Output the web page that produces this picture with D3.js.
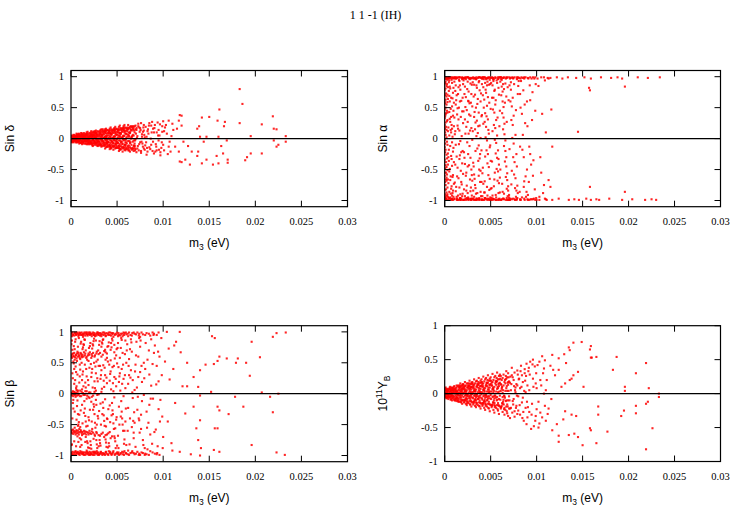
<!DOCTYPE html>
<html>
<head>
<meta charset="utf-8">
<script src="https://cdn.jsdelivr.net/npm/d3@7"></script>
<style>
  html, body { margin: 0; padding: 0; background: #fff; }
  svg { display: block; }
</style>
</head>
<body>
<div id="chart"></div>
<script>
// 1 1 -1 (IH) — vier Scatterplots gegen m3
// Werte: [m3 in meV, Wert]; Umrechnung nach eV erst beim Zeichnen

const title = "1 1 -1 (IH)";
const m3Ticks = [0, 0.005, 0.01, 0.015, 0.02, 0.025, 0.03];
const m3TickLabels = ["0", "0.005", "0.01", "0.015", "0.02", "0.025", "0.03"];
const yTicks = [1, 0.5, 0, -0.5, -1];
const yTickLabels = ["1", "0.5", "0", "-0.5", "-1"];

const sinDelta = [
[0.0,0.02],[0.1,-0.01],[0.0,-0.03],[0.2,0.04],[0.1,0.01],[0.3,-0.02],[0.2,-0.05],[0.4,0.03],[0.3,0.0],[0.0,0.05],[0.1,-0.04],[0.4,-0.01],[0.2,0.02],[0.3,0.05],[0.5,-0.04],[0.0,0.0],[0.1,0.03],[0.4,0.06],[0.2,-0.02],[0.5,0.01],[0.3,-0.06],[0.0,-0.05],[0.4,-0.04],[0.5,0.04],[0.1,-0.06],
[0.6,0.02],[0.7,-0.03],[0.8,0.05],[0.6,-0.06],[0.9,0.0],[0.7,0.07],[0.8,-0.02],[1.0,0.03],[0.6,0.04],[0.9,-0.05],[0.7,0.01],[1.0,-0.07],[0.8,0.06],[0.9,0.03],[0.6,-0.01],[1.0,0.05],[0.7,-0.05],[0.8,-0.04],[0.9,0.07],[1.0,-0.02],[0.7,0.04],[0.6,0.08],[0.8,0.0],[0.9,-0.08],
[1.1,0.02],[1.2,-0.04],[1.3,0.06],[1.4,-0.01],[1.1,-0.07],[1.5,0.04],[1.2,0.08],[1.3,-0.06],[1.4,0.03],[1.5,-0.03],[1.1,0.05],[1.2,0.0],[1.3,-0.02],[1.4,0.07],[1.5,-0.08],[1.1,-0.03],[1.2,0.05],[1.3,0.02],[1.4,-0.05],[1.5,0.01],[1.2,-0.09],[1.4,0.09],[1.3,0.04],[1.1,0.09],
[1.6,0.03],[1.7,-0.05],[1.8,0.08],[1.9,-0.02],[2.0,0.05],[1.6,-0.08],[1.7,0.06],[1.8,-0.04],[1.9,0.01],[2.0,-0.07],[1.6,0.0],[1.7,0.1],[1.8,-0.09],[1.9,0.07],[2.0,0.02],[1.6,0.06],[1.7,-0.01],[1.8,0.03],[1.9,-0.06],[2.0,0.09],[1.7,-0.09],[1.9,0.04],[1.8,0.11],[1.6,-0.04],
[2.1,0.04],[2.2,-0.06],[2.3,0.09],[2.4,-0.02],[2.5,0.06],[2.1,-0.09],[2.2,0.02],[2.3,-0.04],[2.4,0.11],[2.5,-0.08],[2.1,0.0],[2.2,0.07],[2.3,-0.1],[2.4,0.05],[2.5,0.01],[2.1,0.08],[2.2,-0.03],[2.3,0.03],[2.4,-0.07],[2.5,0.1],[2.2,0.12],[2.4,-0.11],[2.1,-0.05],[2.3,0.06],[2.5,-0.04],
[2.6,0.05],[2.7,-0.07],[2.8,0.1],[2.9,-0.03],[3.0,0.07],[2.6,-0.1],[2.7,0.02],[2.8,-0.05],[2.9,0.12],[3.0,-0.09],[2.6,0.01],[2.7,0.08],[2.8,-0.11],[2.9,0.04],[3.0,0.0],[2.6,0.09],[2.7,-0.02],[2.8,0.03],[2.9,-0.08],[3.0,0.11],[2.7,0.13],[2.9,-0.12],[2.6,-0.05],[2.8,0.06],[3.0,-0.04],
[3.1,0.06],[3.2,-0.08],[3.3,0.11],[3.4,-0.03],[3.5,0.08],[3.1,-0.11],[3.2,0.03],[3.3,-0.05],[3.4,0.13],[3.5,-0.1],[3.1,0.0],[3.2,0.09],[3.3,-0.13],[3.4,0.04],[3.5,0.01],[3.1,0.1],[3.2,-0.02],[3.3,0.05],[3.4,-0.08],[3.5,0.12],[3.2,0.14],[3.4,-0.12],[3.1,-0.06],[3.3,0.02],[3.5,-0.05],[3.3,0.15],
[3.6,0.07],[3.7,-0.09],[3.8,0.12],[3.9,-0.04],[4.0,0.09],[3.6,-0.12],[3.7,0.03],[3.8,-0.06],[3.9,0.14],[4.0,-0.11],[3.6,0.01],[3.7,0.1],[3.8,-0.14],[3.9,0.05],[4.0,0.0],[3.6,0.11],[3.7,-0.02],[3.8,0.04],[3.9,-0.09],[4.0,0.13],[3.7,0.15],[3.9,-0.13],[3.6,-0.06],[3.8,0.02],[4.0,-0.05],[3.8,0.16],[3.7,-0.16],
[4.1,0.08],[4.2,-0.1],[4.3,0.13],[4.4,-0.04],[4.5,0.1],[4.1,-0.13],[4.2,0.04],[4.3,-0.07],[4.4,0.15],[4.5,-0.12],[4.1,0.01],[4.2,0.11],[4.3,-0.15],[4.4,0.06],[4.5,0.0],[4.1,0.12],[4.2,-0.02],[4.3,0.03],[4.4,-0.1],[4.5,0.14],[4.2,0.16],[4.4,-0.14],[4.1,-0.06],[4.3,0.09],[4.5,-0.05],[4.3,0.18],[4.2,-0.17],
[4.6,0.09],[4.7,-0.11],[4.8,0.14],[4.9,-0.05],[5.0,0.11],[4.6,-0.14],[4.7,0.04],[4.8,-0.08],[4.9,0.16],[5.0,-0.13],[4.6,0.02],[4.7,0.12],[4.8,-0.16],[4.9,0.06],[5.0,0.0],[4.6,0.13],[4.7,-0.03],[4.8,0.03],[4.9,-0.11],[5.0,0.15],[4.7,0.17],[4.9,-0.15],[4.6,-0.07],[4.8,0.08],[5.0,-0.05],[4.8,0.19],[4.6,-0.18],
[5.1,0.1],[5.2,-0.12],[5.3,0.15],[5.4,-0.06],[5.5,0.12],[5.1,-0.15],[5.2,0.05],[5.3,-0.09],[5.4,0.17],[5.5,-0.14],[5.1,0.02],[5.2,0.13],[5.3,-0.17],[5.4,0.07],[5.5,0.01],[5.1,0.14],[5.2,-0.03],[5.3,0.04],[5.4,-0.12],[5.5,0.16],[5.2,0.19],[5.4,-0.17],[5.1,-0.07],[5.3,0.09],[5.5,-0.05],[5.3,0.21],[5.2,-0.2],
[5.6,0.11],[5.7,-0.13],[5.8,0.16],[5.9,-0.06],[6.0,0.13],[5.6,-0.16],[5.7,0.05],[5.8,-0.1],[5.9,0.18],[6.0,-0.15],[5.6,0.02],[5.7,0.14],[5.8,-0.18],[5.9,0.08],[6.0,0.01],[5.6,0.15],[5.7,-0.03],[5.8,0.04],[5.9,-0.13],[6.0,0.17],[5.7,0.2],[5.9,-0.19],[5.6,-0.08],[5.8,0.1],[6.0,-0.06],[5.8,0.22],[5.6,-0.21],
[6.1,0.12],[6.2,-0.14],[6.3,0.17],[6.4,-0.07],[6.5,0.14],[6.1,-0.17],[6.2,0.06],[6.3,-0.11],[6.4,0.19],[6.5,-0.16],[6.1,0.03],[6.2,0.15],[6.3,-0.19],[6.4,0.09],[6.5,0.0],[6.1,0.16],[6.2,-0.04],[6.3,0.05],[6.4,-0.14],[6.5,0.2],[6.2,0.22],[6.4,-0.21],
[6.6,0.13],[6.7,-0.15],[6.8,0.18],[6.9,-0.08],[7.0,0.15],[6.6,-0.18],[6.7,0.06],[6.8,-0.12],[6.9,0.2],[7.0,-0.17],[6.6,0.03],[6.7,0.16],[6.8,-0.2],[6.9,0.1],[7.0,-0.01],[6.6,0.19],[6.7,-0.05],[6.8,0.05],[6.9,-0.15],[7.0,0.21],
[7.1,0.14],[7.2,-0.16],[7.3,0.2],[7.4,-0.09],[7.5,0.17],[7.6,-0.2],[7.7,0.07],[7.8,-0.13],[7.9,0.22],[8.0,-0.18],[7.2,0.04],[7.4,0.18],[7.6,-0.23],[7.8,0.11],[8.0,0.02],[7.3,0.24],[7.5,-0.06],[7.7,0.03],[7.9,-0.16],[7.1,-0.22],[7.6,0.25],[7.9,0.13],
[8.1,0.19],[8.3,-0.21],[8.5,0.25],[8.7,-0.1],[8.9,0.16],[8.2,-0.26],[8.4,0.08],[8.6,-0.17],[8.8,0.27],[9.0,-0.24],[8.3,0.12],[8.7,0.21],[8.9,-0.05],[8.5,-0.14],[9.0,0.1],[8.2,0.03],
[9.1,0.22],[9.3,-0.19],[9.5,0.14],[9.7,-0.27],[9.9,0.2],[9.2,-0.09],[9.4,0.26],[9.6,0.05],[9.8,-0.15],[10.0,0.28],[9.3,0.1],[9.7,-0.22],[9.5,-0.03],[10.0,-0.1],
[10.4,0.08],[10.6,0.29],[10.6,-0.13],[10.8,-0.21],[11.0,0.24],[11.1,0.14],[10.2,0.18],[10.5,-0.25],[10.9,0.04],
[11.3,-0.13],[11.5,0.16],[11.7,0.29],[11.7,-0.21],[11.8,0.38],[11.8,-0.37],[12.0,0.37],[12.0,0.21],[12.0,-0.38],[12.2,-0.05],[12.4,-0.34],[12.7,-0.12],[12.9,-0.42],[13.1,-0.21],[13.7,0.16],[13.7,-0.28],[13.8,-0.21],[13.9,0.2],[14.0,0.03],[14.2,0.34],[14.2,-0.4],[14.4,-0.05],[14.7,0.03],[14.7,-0.34],[15.0,0.35],[15.4,-0.42],[15.8,-0.28],[15.9,0.29],[16.0,0.03],[16.0,-0.4],[16.1,0.47],[16.3,-0.12],[16.5,-0.24],[16.6,0.2],[16.7,0.27],[16.9,-0.03],[17.0,-0.39],[17.0,-0.34],[18.3,0.8],[18.3,0.25],[18.6,0.56],[18.9,-0.35],[19.1,-0.3],[19.5,0.04],[19.5,-0.24],[20.7,0.23],[20.7,-0.24],[21.9,0.36],[22.0,0.16],[22.0,-0.03],[22.3,0.15],[22.3,-0.13],[22.5,-0.1],[23.3,0.04],[23.3,-0.05],
[0.15,0.01],[0.25,-0.03],[0.35,0.02],[0.45,-0.02],[0.05,0.04],[0.55,0.0],[0.65,-0.03],[0.75,0.03],[0.85,-0.01],[0.95,0.04],[0.15,-0.02],[0.35,0.04],[0.55,-0.06],[0.75,-0.06],[0.95,-0.04],[0.25,0.06],[0.65,0.06],[0.85,0.08],
[1.05,0.0],[1.15,-0.05],[1.25,0.03],[1.35,-0.08],[1.45,0.05],[1.55,-0.01],[1.65,0.08],[1.75,-0.03],[1.85,0.01],[1.95,-0.09],[1.05,0.06],[1.25,-0.06],[1.45,-0.04],[1.65,0.02],[1.85,-0.07],[1.15,0.08],[1.35,0.01],[1.55,0.07],[1.75,0.05],[1.95,-0.01],
[2.05,0.03],[2.15,-0.07],[2.25,0.05],[2.35,-0.01],[2.45,0.08],[2.55,-0.05],[2.65,0.02],[2.75,-0.09],[2.85,0.07],[2.95,0.0],[2.05,-0.04],[2.25,-0.08],[2.45,-0.02],[2.65,0.11],[2.85,-0.06],[2.15,0.1],[2.35,0.04],[2.55,0.03],[2.75,0.06],[2.95,-0.11],[2.35,-0.12],[2.55,0.12],
[3.05,0.04],[3.15,-0.09],[3.25,0.07],[3.35,-0.02],[3.45,0.1],[3.55,-0.07],[3.65,0.03],[3.75,-0.11],[3.85,0.08],[3.95,-0.01],[3.05,-0.05],[3.25,-0.1],[3.45,-0.04],[3.65,0.13],[3.85,-0.07],[3.15,0.12],[3.35,0.06],[3.55,0.01],[3.75,0.09],[3.95,-0.13],[3.45,0.15],[3.85,0.02],
[4.05,0.05],[4.15,-0.1],[4.25,0.08],[4.35,-0.03],[4.45,0.12],[4.55,-0.08],[4.65,0.03],[4.75,-0.13],[4.85,0.1],[4.95,-0.02],[4.05,-0.06],[4.25,-0.12],[4.45,-0.05],[4.65,0.15],[4.85,-0.09],[4.15,0.14],[4.35,0.07],[4.55,0.01],[4.75,0.11],[4.95,-0.15],[4.35,-0.16],[4.65,-0.02],[4.95,0.07],
[5.05,0.06],[5.15,-0.11],[5.25,0.09],[5.35,-0.03],[5.45,0.14],[5.55,-0.09],[5.65,0.04],[5.75,-0.15],[5.85,0.12],[5.95,-0.02],[5.05,-0.07],[5.25,-0.14],[5.45,-0.05],[5.65,0.17],[5.85,-0.1],[5.15,0.16],[5.35,0.08],[5.55,0.02],[5.75,0.13],[5.95,-0.17],[5.35,-0.18],[5.65,-0.01],[5.95,0.08],
[6.05,0.07],[6.15,-0.12],[6.25,0.1],[6.35,-0.04],[6.45,0.16],[6.55,-0.1],[6.65,0.04],[6.75,-0.17],[6.85,0.13],[6.95,-0.03],[6.05,-0.08],[6.25,-0.16],[6.45,-0.06],[6.65,0.19],[6.85,-0.11],[6.15,0.18],[6.35,0.09],[6.55,0.02],[6.75,0.15],[6.95,-0.19],
[7.05,0.08],[7.25,-0.12],[7.45,0.11],[7.65,-0.05],[7.85,0.18],[8.05,-0.11],[7.15,0.01],[7.35,-0.19],[7.55,0.14],[7.75,-0.08],[7.95,0.06],[8.25,-0.15],[8.45,0.21],[8.65,0.0],[8.85,-0.2],[8.35,0.15],[8.15,-0.06],[8.75,0.1],[9.05,0.17],[9.25,-0.13],[9.45,0.05],[9.65,0.23],[9.85,-0.06],[9.15,-0.21],[9.55,-0.18],[9.9,0.11],[10.1,-0.19],[10.3,0.22],[10.7,-0.05],[10.1,0.12],
[0.3,0.01],[0.8,-0.01],[1.3,0.0],[1.8,-0.01],[2.3,0.01],[2.8,-0.02],[3.3,0.0],[3.8,-0.02],[4.3,0.01],[4.8,-0.03],[5.3,0.02],[5.8,-0.02],[6.3,0.03],[6.8,-0.03],
[0.42,0.03],[0.92,-0.03],[1.42,0.04],[1.92,-0.04],[2.42,0.05],[2.92,-0.05],[3.42,0.06],[3.92,-0.07],[4.42,0.08],[4.92,-0.08],[5.42,0.09],[5.92,-0.1],[6.42,0.11],[6.92,-0.12],
[0.62,-0.02],[1.12,0.04],[1.62,-0.05],[2.12,0.06],[2.62,-0.07],[3.12,0.08],[3.62,-0.1],[4.12,0.1],[4.62,-0.12],[5.12,0.13],[5.62,-0.14],[6.12,0.15],[6.62,-0.16],[7.12,0.17],
[0.22,-0.04],[0.72,0.05],[1.22,-0.06],[1.72,0.07],[2.22,-0.08],[2.72,0.09],[3.22,-0.11],[3.72,0.12],[4.22,-0.13],[4.72,0.15],[5.22,-0.16],[5.72,0.18],[6.22,-0.19],[6.72,0.2]
];

const sinAlpha = [
[0.0,0.97],[0.1,0.92],[0.2,0.85],[0.0,0.78],[0.3,0.71],[0.1,0.63],[0.2,0.55],[0.0,0.47],[0.1,0.39],[0.3,0.3],[0.0,0.22],[0.2,0.14],[0.1,0.06],[0.0,-0.02],[0.3,-0.1],[0.1,-0.18],[0.2,-0.26],[0.0,-0.34],[0.1,-0.43],[0.3,-0.51],[0.0,-0.6],[0.2,-0.68],[0.1,-0.75],[0.0,-0.83],[0.3,-0.9],[0.1,-0.96],[0.2,-0.99],[0.4,0.99],[0.0,0.88],[0.2,0.68],[0.1,0.5],[0.3,0.42],[0.0,0.33],[0.2,0.02],[0.4,-0.3],[0.0,-0.55],[0.2,-0.87],[0.4,-0.72],[0.1,0.81],[0.3,0.59],[0.0,-0.14],[0.2,-0.46],[0.3,0.95],[0.1,-0.93],[0.4,0.18],[0.0,0.6],[0.2,-0.63],[0.1,0.26],[0.3,-0.79],[0.0,-0.98],
[0.5,0.94],[0.6,0.81],[0.7,0.66],[0.8,0.52],[0.9,0.37],[1.0,0.2],[0.5,0.05],[0.6,-0.12],[0.7,-0.28],[0.8,-0.44],[0.9,-0.59],[1.0,-0.73],[0.5,-0.86],[0.6,-0.95],[0.7,0.99],[0.8,0.9],[0.9,0.74],[1.0,0.58],[0.5,0.43],[0.6,0.27],[0.7,0.1],[0.8,-0.06],[0.9,-0.21],[1.0,-0.38],[0.5,-0.53],[0.6,-0.67],[0.7,-0.81],[0.8,-0.92],[0.9,-0.99],[1.0,0.97],[0.6,0.98],[0.8,-0.98],[0.5,0.69],[0.9,-0.84],[0.7,0.35],[0.8,0.16],
[1.1,0.98],[1.2,0.86],[1.3,0.7],[1.4,0.49],[1.5,0.31],[1.6,0.13],[1.7,-0.04],[1.8,-0.22],[1.9,-0.4],[2.0,-0.57],[1.1,-0.71],[1.2,-0.85],[1.3,-0.94],[1.4,-0.99],[1.5,0.99],[1.6,0.93],[1.7,0.79],[1.8,0.61],[1.9,0.44],[2.0,0.25],[1.1,0.07],[1.2,-0.1],[1.3,-0.29],[1.4,-0.47],[1.5,-0.64],[1.6,-0.79],[1.7,-0.9],[1.8,-0.97],[1.9,0.96],[2.0,0.88],[1.2,0.55],[1.4,0.21],[1.6,-0.33],[1.8,-0.7],[1.3,0.99],[1.7,-0.99],[1.9,-0.93],[1.5,0.83],
[2.1,0.97],[2.2,0.84],[2.3,0.67],[2.4,0.46],[2.5,0.27],[2.6,0.08],[2.7,-0.12],[2.8,-0.31],[2.9,-0.5],[3.0,-0.68],[2.1,-0.82],[2.2,-0.93],[2.3,-0.99],[2.4,0.99],[2.5,0.92],[2.6,0.76],[2.7,0.57],[2.8,0.37],[2.9,0.17],[3.0,-0.02],[2.1,-0.22],[2.2,-0.41],[2.3,-0.6],[2.4,-0.76],[2.5,-0.88],[2.6,-0.97],[2.7,0.98],[2.8,0.89],[2.9,0.72],[3.0,0.52],[2.2,0.31],[2.5,-0.45],[2.8,-0.85],[2.4,-0.96],[2.6,0.6],[2.9,-0.99],[2.3,0.96],
[3.1,0.99],[3.2,0.87],[3.3,0.71],[3.4,0.5],[3.5,0.29],[3.6,0.09],[3.7,-0.11],[3.8,-0.32],[3.9,-0.52],[4.0,-0.7],[3.1,-0.84],[3.2,-0.94],[3.3,-0.99],[3.4,0.96],[3.5,0.82],[3.6,0.64],[3.7,0.42],[3.8,0.21],[3.9,0.01],[4.0,-0.19],[3.1,-0.39],[3.2,-0.58],[3.3,-0.75],[3.4,-0.89],[3.5,-0.97],[3.6,0.98],[3.7,0.91],[3.8,0.78],[3.9,0.6],[4.0,0.36],[3.3,0.15],[3.7,-0.6],[3.5,-0.99],[3.9,-0.86],[3.2,0.35],
[4.1,0.97],[4.2,0.83],[4.3,0.63],[4.4,0.41],[4.5,0.19],[4.6,-0.03],[4.7,-0.25],[4.8,-0.46],[4.9,-0.65],[5.0,-0.81],[4.1,-0.93],[4.2,-0.99],[4.3,0.99],[4.4,0.9],[4.5,0.74],[4.6,0.53],[4.7,0.31],[4.8,0.08],[4.9,-0.14],[5.0,-0.36],[4.1,-0.56],[4.2,-0.73],[4.3,-0.87],[4.4,-0.96],[4.5,0.98],[4.6,0.86],[4.7,0.67],[4.8,-0.98],[4.9,0.95],[5.0,0.48],[4.4,-0.29],[4.6,-0.78],[4.2,0.24],[4.8,0.87],
[5.1,0.98],[5.2,0.86],[5.3,0.66],[5.4,0.42],[5.5,0.17],[5.6,-0.07],[5.7,-0.31],[5.8,-0.53],[5.9,-0.72],[6.0,-0.87],[5.1,-0.96],[5.2,-0.99],[5.3,0.93],[5.4,0.77],[5.5,0.55],[5.6,0.3],[5.7,0.05],[5.8,-0.19],[5.9,-0.42],[6.0,-0.63],[5.1,-0.8],[5.2,-0.92],[5.3,-0.98],[5.5,0.99],[5.7,0.9],[5.9,0.71],[5.4,-0.66],[5.6,-0.95],[5.8,0.99],[6.0,0.45],[5.2,0.12],
[6.1,0.99],[6.2,0.84],[6.3,0.6],[6.4,0.34],[6.5,0.07],[6.6,-0.2],[6.7,-0.45],[6.8,-0.67],[6.9,-0.84],[7.0,-0.95],[6.1,-0.99],[6.2,0.95],[6.3,0.76],[6.4,0.51],[6.5,0.24],[6.6,-0.03],[6.7,-0.3],[6.8,-0.56],[6.9,-0.77],[7.0,-0.91],[6.2,-0.98],[6.4,0.98],[6.6,0.89],[6.8,-0.99],[6.3,-0.86],[6.7,0.68],
[7.1,0.97],[7.2,0.79],[7.3,0.52],[7.4,0.22],[7.5,-0.08],[7.6,-0.38],[7.7,-0.64],[7.8,-0.84],[7.9,-0.96],[8.0,0.99],[7.1,-0.99],[7.2,0.91],[7.4,0.66],[7.5,0.37],[7.7,0.06],[7.8,-0.25],[7.3,-0.52],[7.9,-0.76],[7.6,-0.98],[8.0,0.85],
[8.1,0.98],[8.2,0.72],[8.4,0.4],[8.5,0.06],[8.6,-0.3],[8.8,-0.61],[8.9,-0.86],[9.0,-0.98],[8.3,0.93],[8.7,0.55],[8.4,-0.95],[8.8,0.99],[8.6,-0.78],[8.2,-0.13],[9.0,0.2],
[9.1,0.97],[9.3,0.62],[9.4,-0.42],[9.6,0.99],[9.7,-0.97],[9.8,-0.82],[9.2,-0.13],[9.5,0.3],[9.9,0.88],[10.0,-0.99],[9.6,-0.6],[9.3,-0.25],
[10.2,0.85],[10.4,-0.3],[10.6,0.4],[10.8,-0.75],[11.0,0.1],[11.3,-0.67],[11.5,-0.78],[11.6,0.47],[11.7,-0.13],[10.5,-0.55],[10.9,0.94],[11.2,0.98],
[0.5,0.99],[0.9,0.98],[1.2,0.97],[1.6,0.99],[2.0,0.98],[2.5,0.99],[2.9,0.97],[3.3,0.98],[3.7,0.99],[4.1,0.99],[4.5,0.96],[4.9,0.99],[5.3,0.98],[5.8,0.96],[6.3,0.98],[6.7,0.99],[7.2,0.98],[7.6,0.99],[8.5,0.98],[9.3,0.99],[0.3,0.97],[1.9,0.99],[3.0,0.98],[4.7,0.98],[6.0,0.99],[7.9,0.97],
[0.4,-0.99],[0.8,-0.97],[1.3,-0.98],[1.7,-0.96],[2.1,-0.99],[2.6,-0.99],[3.0,-0.97],[3.4,-0.99],[3.8,-0.98],[4.3,-0.99],[4.7,-0.97],[5.0,-0.99],[5.4,-0.98],[5.9,-0.99],[6.4,-0.97],[6.9,-0.99],[7.3,-0.98],[7.8,-0.99],[8.2,-0.98],[9.2,-0.99],[0.2,-0.97],[1.5,-0.99],[2.8,-0.98],[4.0,-0.99],[5.6,-0.99],[7.0,-0.98],[8.7,-0.99],[9.6,-0.98],
[10.8,0.99],[11.5,0.98],[12.2,0.99],[12.8,0.97],[13.4,0.99],[14.3,0.98],[15.2,0.99],[15.9,0.97],[17.0,0.99],[18.1,0.98],[18.8,0.99],[19.3,0.97],[21.0,0.99],[22.1,0.98],[23.4,0.99],[15.7,0.82],[15.8,0.78],[19.6,0.84],[14.5,0.11],[15.8,-0.78],[19.6,-0.86],
[10.3,-0.99],[11.0,-0.98],[11.7,-0.99],[12.4,-0.97],[13.5,-0.99],[14.1,-0.98],[14.6,-0.99],[15.4,-0.97],[15.9,-0.99],[16.5,-0.98],[16.8,-0.99],[17.9,-0.97],[19.3,-0.99],[20.4,-0.98],[21.8,-0.99],[22.5,-0.98],[23.0,-0.99],
[0.05,0.9],[0.15,0.73],[0.05,0.57],[0.25,0.45],[0.05,0.36],[0.15,0.19],[0.05,0.1],[0.25,-0.05],[0.05,-0.22],[0.15,-0.38],[0.05,-0.48],[0.25,-0.58],[0.05,-0.7],[0.15,-0.82],[0.05,-0.9],[0.35,0.83],[0.35,0.64],[0.35,0.12],[0.35,-0.24],[0.35,-0.42],[0.35,-0.66],[0.35,-0.94],[0.05,0.7],[0.15,0.41],[0.25,0.28],[0.05,-0.08],[0.25,-0.32],[0.15,-0.55],[0.25,-0.92],[0.05,0.99],[0.15,0.96],[0.25,0.98],[0.05,-0.95],[0.15,-0.99],[0.25,0.88],[0.05,0.16],[0.15,-0.66],
[0.45,0.77],[0.55,0.6],[0.65,0.48],[0.75,0.22],[0.85,0.03],[0.95,-0.15],[0.45,-0.36],[0.55,-0.49],[0.65,-0.61],[0.75,-0.77],[0.85,-0.88],[0.95,-0.94],[0.45,0.91],[0.55,0.84],[0.65,0.14],[0.75,-0.33],[0.85,0.65],[0.95,0.45],[0.45,-0.18],[0.55,0.32],[0.65,-0.89],[0.75,0.95],[0.85,-0.62],[0.95,0.82],[0.45,0.97],[0.65,-0.98],[0.85,0.99],[0.55,-0.97],
[1.05,0.92],[1.15,0.77],[1.25,0.62],[1.35,0.39],[1.45,0.16],[1.55,-0.09],[1.65,-0.27],[1.75,-0.52],[1.85,-0.74],[1.95,-0.89],[1.05,-0.97],[1.25,0.97],[1.35,-0.61],[1.45,0.72],[1.55,0.5],[1.65,0.86],[1.75,0.35],[1.85,0.04],[1.95,-0.2],[1.05,0.34],[1.15,-0.42],[1.25,-0.78],[1.45,-0.92],[1.65,-0.96],[1.85,0.98],[1.95,0.66],[1.15,0.99],[1.35,-0.99],[1.55,0.95],[1.75,-0.99],[1.15,0.12],[1.65,0.6],
[2.05,0.94],[2.15,0.72],[2.25,0.51],[2.35,0.19],[2.45,-0.06],[2.55,-0.25],[2.65,-0.43],[2.75,-0.66],[2.85,-0.79],[2.95,-0.92],[2.05,-0.99],[2.25,0.99],[2.35,-0.84],[2.45,0.8],[2.55,0.61],[2.65,0.39],[2.75,0.13],[2.85,0.58],[2.95,0.87],[2.05,0.44],[2.15,-0.31],[2.35,-0.55],[2.55,-0.95],[2.75,0.96],[2.95,-0.59],[2.15,0.98],[2.45,-0.98],[2.65,0.97],[2.85,-0.97],[2.25,0.08],
[3.05,0.91],[3.15,0.68],[3.25,0.43],[3.35,0.26],[3.45,0.04],[3.55,-0.16],[3.65,-0.36],[3.75,-0.5],[3.85,-0.7],[3.95,-0.93],[3.05,-0.97],[3.25,0.97],[3.35,-0.8],[3.45,0.86],[3.55,0.56],[3.65,0.2],[3.75,0.93],[3.85,-0.25],[3.95,0.73],[3.05,0.12],[3.15,-0.45],[3.35,-0.2],[3.55,-0.88],[3.75,-0.96],[3.95,0.98],[3.15,-0.99],[3.45,0.99],[3.65,-0.98],[3.85,0.99],[3.25,-0.65],
[4.05,0.88],[4.15,0.7],[4.25,0.5],[4.35,0.27],[4.45,0.02],[4.55,-0.19],[4.65,-0.4],[4.75,-0.59],[4.85,-0.83],[4.95,-0.95],[4.05,-0.99],[4.25,0.96],[4.35,-0.69],[4.45,0.79],[4.55,0.36],[4.65,0.92],[4.75,0.14],[4.85,0.58],[4.95,-0.11],[4.05,0.38],[4.15,-0.47],[4.35,-0.87],[4.55,-0.98],[4.75,0.99],[4.95,0.88],[4.15,0.99],[4.45,-0.97],[4.65,-0.92],[4.85,-0.99],
[5.05,0.9],[5.15,0.66],[5.25,0.47],[5.35,0.22],[5.45,-0.02],[5.55,-0.24],[5.65,-0.49],[5.75,-0.68],[5.85,-0.88],[5.95,-0.97],[5.05,-0.99],[5.25,0.98],[5.35,-0.77],[5.45,0.79],[5.55,0.62],[5.65,0.94],[5.75,0.34],[5.85,0.82],[5.95,0.2],[5.15,-0.37],[5.35,0.96],[5.55,-0.91],[5.75,-0.99],[5.95,0.99],[5.15,0.99],[5.45,-0.55],[5.85,-0.33],
[6.05,0.92],[6.15,0.7],[6.25,0.41],[6.35,0.15],[6.45,-0.12],[6.55,-0.37],[6.65,-0.62],[6.75,-0.81],[6.85,-0.93],[6.95,-0.99],[6.15,0.99],[6.35,-0.97],[6.45,0.8],[6.55,0.58],[6.65,0.97],[6.75,0.27],[6.85,0.83],[6.95,0.62],[6.25,-0.73],[6.45,-0.89],[6.65,-0.99],[6.85,0.99],[6.05,-0.5],[6.35,0.88],
[7.05,0.86],[7.15,0.6],[7.25,0.3],[7.35,0.01],[7.45,-0.3],[7.55,-0.58],[7.65,-0.8],[7.75,-0.94],[7.85,0.96],[7.95,0.72],[7.15,-0.97],[7.35,0.99],[7.55,0.88],[7.75,0.46],[7.95,-0.88],[7.25,-0.74],[7.45,0.97],[7.65,-0.99],[7.85,-0.45],[7.05,-0.17],
[8.05,0.93],[8.25,0.5],[8.45,-0.18],[8.65,-0.69],[8.85,-0.94],[8.15,-0.86],[8.35,0.99],[8.55,0.78],[8.75,0.25],[8.95,-0.5],[8.25,-0.99],[8.65,0.97],[8.95,0.6],[9.05,-0.91],[9.25,0.86],[9.45,0.97],[9.65,-0.35],[9.85,0.45],[9.15,-0.7],[9.35,-0.98],[9.55,0.75],[9.75,0.97],[9.95,-0.96],[10.1,0.97],[10.3,-0.94],[10.5,0.99],[10.7,-0.88],[10.9,-0.97],[11.1,-0.99],[11.3,0.97],
[0.15,0.99],[0.45,0.98],[0.75,0.97],[1.05,0.99],[1.35,0.98],[1.65,0.99],[1.95,0.97],[2.25,0.98],[2.55,0.99],[2.85,0.98],[3.15,0.97],[3.45,0.96],[3.75,0.99],[4.05,0.97],[4.35,0.99],[4.65,0.97],[4.95,0.98],[5.25,0.96],[5.55,0.98],[5.85,0.97],[6.15,0.96],[6.45,0.99],[6.75,0.98],[7.05,0.99],[7.45,0.98],[7.85,0.99],[8.25,0.97],[8.65,0.99],[9.05,0.98],[9.85,0.99],
[0.15,-0.98],[0.45,-0.96],[0.75,-0.99],[1.05,-0.98],[1.35,-0.97],[1.65,-0.98],[1.95,-0.99],[2.25,-0.97],[2.55,-0.98],[2.85,-0.99],[3.15,-0.98],[3.45,-0.97],[3.75,-0.99],[4.05,-0.98],[4.35,-0.96],[4.65,-0.99],[4.95,-0.98],[5.25,-0.97],[5.55,-0.99],[5.85,-0.98],[6.15,-0.99],[6.45,-0.98],[6.75,-0.96],[7.05,-0.99],[7.45,-0.97],[7.85,-0.98],[8.25,-0.99],[8.65,-0.97],[9.05,-0.99],[9.45,-0.98],[9.85,-0.99]
];

const sinBeta = [
[0.0,0.98],[0.2,0.95],[0.4,0.99],[0.6,0.96],[0.8,0.93],[1.0,0.98],[1.2,0.95],[1.4,0.97],[1.6,0.99],[1.8,0.94],[2.0,0.97],[2.2,0.96],[2.4,0.99],[2.6,0.93],[2.8,0.97],[3.0,0.95],[3.2,0.98],[3.4,0.96],[3.6,0.99],[3.8,0.94],[4.0,0.97],[4.2,0.95],[4.4,0.98],[4.6,0.92],[4.8,0.97],[5.0,0.99],[5.2,0.95],[5.4,0.97],[5.6,0.93],[5.8,0.98],[6.0,0.96],[6.3,0.99],[6.6,0.94],[6.9,0.97],[7.2,0.99],[7.5,0.92],[7.8,0.96],[8.2,0.98],[8.6,0.94],[9.0,0.97],[9.5,0.99],[0.1,0.93],[0.5,0.97],[0.9,0.99],[1.3,0.92],[1.7,0.96],[2.1,0.99],[2.5,0.95],[2.9,0.99],[3.3,0.93],[3.7,0.97],[4.1,0.99],[4.5,0.96],[5.1,0.93],[5.7,0.99],[6.2,0.93],[6.8,0.99],[7.4,0.97],
[0.0,-0.97],[0.2,-0.94],[0.4,-0.99],[0.6,-0.95],[0.8,-0.98],[1.0,-0.93],[1.2,-0.97],[1.4,-0.99],[1.6,-0.95],[1.8,-0.98],[2.0,-0.94],[2.2,-0.97],[2.4,-0.99],[2.6,-0.96],[2.8,-0.93],[3.0,-0.98],[3.2,-0.95],[3.4,-0.99],[3.6,-0.97],[3.8,-0.94],[4.0,-0.98],[4.2,-0.96],[4.4,-0.99],[4.6,-0.93],[4.8,-0.97],[5.0,-0.95],[5.2,-0.99],[5.4,-0.96],[5.6,-0.98],[5.8,-0.93],[6.0,-0.97],[6.3,-0.99],[6.6,-0.95],[6.9,-0.98],[7.2,-0.94],[7.5,-0.99],[7.8,-0.96],[8.2,-0.98],[8.6,-0.93],[9.1,-0.97],[9.6,-0.99],[0.1,-0.99],[0.5,-0.93],[0.9,-0.96],[1.3,-0.95],[1.7,-0.92],[2.1,-0.99],[2.5,-0.94],[2.9,-0.99],[3.3,-0.97],[3.7,-0.99],[4.1,-0.93],[4.5,-0.97],[5.1,-0.97],[5.7,-0.95],[6.2,-0.92],[6.8,-0.96],[7.4,-0.97],[8.0,-0.99],
[0.0,0.62],[0.1,0.58],[0.2,0.65],[0.3,0.6],[0.5,0.63],[0.6,0.57],[0.8,0.66],[0.9,0.61],[1.1,0.64],[1.2,0.59],[1.4,0.67],[1.5,0.62],[1.7,0.6],[1.9,0.65],[2.0,0.63],[2.2,0.58],[2.4,0.66],[2.6,0.62],[2.8,0.68],[3.0,0.64],[3.3,0.6],[3.6,0.69],[3.9,0.65],[4.3,0.71],[4.7,0.67],[0.4,0.55],[0.7,0.68],[1.0,0.56],[1.6,0.7],[2.3,0.61],
[0.0,-0.6],[0.1,-0.64],[0.2,-0.58],[0.3,-0.62],[0.5,-0.66],[0.6,-0.59],[0.8,-0.63],[0.9,-0.57],[1.1,-0.61],[1.2,-0.67],[1.4,-0.6],[1.5,-0.64],[1.7,-0.62],[1.9,-0.66],[2.0,-0.6],[2.2,-0.65],[2.4,-0.63],[2.6,-0.68],[2.8,-0.64],[3.0,-0.67],[3.3,-0.65],[3.6,-0.7],[3.9,-0.66],[4.3,-0.72],[4.7,-0.69],[0.4,-0.55],[0.7,-0.69],[1.0,-0.54],[1.6,-0.7],[2.3,-0.57],
[0.0,0.01],[0.1,-0.03],[0.2,0.04],[0.3,-0.01],[0.4,0.02],[0.5,-0.05],[0.7,0.03],[0.8,-0.02],[1.0,0.05],[1.1,-0.04],[1.3,0.01],[1.5,-0.02],[1.7,0.04],[1.9,-0.05],[2.1,0.02],[2.4,-0.03],[2.7,0.05],[3.0,-0.01],[3.3,0.03],[0.6,0.06],[1.2,0.07],[2.0,-0.07],
[0.1,0.86],[0.3,0.77],[0.5,0.44],[0.7,0.31],[0.9,0.18],[0.2,-0.15],[0.4,-0.29],[0.6,-0.42],[0.8,-0.78],[1.0,-0.86],[0.3,0.49],[0.5,0.88],[0.7,-0.11],[0.9,-0.34],[0.2,0.25],[0.6,0.12],[0.8,-0.5],[0.4,0.72],[1.0,0.39],[0.1,-0.82],
[1.1,0.84],[1.3,0.75],[1.5,0.47],[1.7,0.28],[1.9,0.14],[1.2,-0.18],[1.4,-0.31],[1.6,-0.45],[1.8,-0.8],[2.0,-0.88],[1.3,0.36],[1.5,0.87],[1.7,-0.08],[1.9,-0.38],[1.2,0.22],[1.6,0.1],[1.8,-0.52],[1.4,0.79],[2.0,0.42],[1.1,-0.74],[1.9,0.53],[1.5,-0.24],
[2.1,0.82],[2.3,0.73],[2.5,0.5],[2.7,0.33],[2.9,0.2],[2.2,-0.13],[2.4,-0.26],[2.6,-0.47],[2.8,-0.82],[3.0,-0.85],[2.3,0.4],[2.5,0.89],[2.7,-0.1],[2.9,-0.36],[2.2,0.27],[2.6,0.09],[2.8,-0.5],[2.4,0.78],[3.0,0.45],[2.1,-0.77],[2.9,0.55],[2.5,-0.21],[2.7,0.86],[2.2,-0.89],
[3.1,0.85],[3.3,0.76],[3.5,0.46],[3.7,0.3],[3.9,0.17],[3.2,-0.16],[3.4,-0.33],[3.6,-0.44],[3.8,-0.79],[4.0,-0.87],[3.3,0.38],[3.5,0.88],[3.7,-0.09],[3.9,-0.4],[3.2,0.24],[3.6,0.11],[3.8,-0.53],[3.4,0.81],[4.0,0.52],[3.1,-0.75],[3.9,0.58],[3.5,-0.23],[3.7,0.71],[3.2,-0.84],
[4.1,0.83],[4.3,0.54],[4.5,0.43],[4.7,0.27],[4.9,0.12],[4.2,-0.19],[4.4,-0.35],[4.6,-0.48],[4.8,-0.77],[5.0,-0.84],[4.3,0.36],[4.5,0.86],[4.7,-0.06],[4.9,-0.42],[4.2,0.21],[4.6,0.04],[4.8,-0.56],[4.4,0.75],[5.0,0.49],[4.1,-0.8],[4.9,0.62],[4.5,-0.27],[4.7,0.79],[4.2,-0.62],
[5.1,0.82],[5.3,0.58],[5.5,0.4],[5.7,0.24],[5.9,0.09],[5.2,-0.21],[5.4,-0.37],[5.6,-0.5],[5.8,-0.74],[6.0,-0.83],[5.3,0.33],[5.5,0.87],[5.7,-0.04],[5.9,-0.45],[5.2,0.19],[5.6,0.66],[5.8,-0.6],[5.4,0.74],[6.0,0.5],[5.1,-0.68],[5.9,0.86],[5.5,-0.29],
[6.1,0.8],[6.3,0.56],[6.5,0.38],[6.7,0.22],[6.9,0.06],[6.2,-0.23],[6.4,-0.4],[6.6,-0.54],[6.8,-0.72],[7.0,-0.86],[6.3,0.3],[6.5,0.88],[6.7,-0.07],[6.9,-0.47],[6.2,0.16],[6.6,0.68],[6.8,-0.63],[6.4,0.72],[7.0,0.47],
[7.1,0.84],[7.3,0.6],[7.5,0.35],[7.7,0.19],[7.9,-0.02],[7.2,-0.26],[7.4,-0.43],[7.6,-0.57],[7.8,-0.75],[8.0,-0.88],[7.3,0.27],[7.5,0.76],[7.7,-0.12],[7.9,0.5],[7.4,0.9],[7.6,-0.34],
[8.1,0.82],[8.3,0.55],[8.5,0.31],[8.7,0.13],[8.9,-0.08],[8.2,-0.29],[8.4,-0.47],[8.6,-0.66],[8.8,-0.81],[9.0,0.66],[8.3,-0.9],[8.7,0.88],[8.5,-0.18],
[9.1,0.78],[9.3,0.45],[9.5,0.2],[9.7,-0.1],[9.9,-0.37],[9.2,-0.58],[9.4,-0.85],[9.6,0.6],[9.8,0.9],[10.0,-0.7],[9.5,-0.25],
[10.2,0.52],[10.4,1.0],[10.5,-0.45],[10.7,0.23],[10.9,-0.8],[11.1,0.4],[11.3,-0.15],[10.6,0.73],[11.0,-0.92],[11.4,0.84],
[11.8,1.0],[15.3,0.93],[15.6,0.9],[19.6,0.84],[22.3,0.98],[23.3,0.99],[21.9,0.92],[20.5,0.59],[18.1,0.57],[19.0,0.5],[16.9,0.57],[16.1,0.6],[15.9,0.53],[15.5,0.48],[14.6,0.47],[14.0,0.38],[13.3,0.27],[19.4,0.29],[17.9,0.5],[13.8,0.11],[12.6,0.12],[12.1,0.12],[15.2,0.03],[17.8,-0.05],[20.7,0.02],[21.6,-0.05],[22.5,0.0],[18.7,-0.21],[15.9,-0.21],[16.1,-0.27],[17.1,-0.33],[21.9,-0.3],[15.6,-0.56],[15.9,-0.56],[19.6,-0.83],[15.5,-0.91],[16.1,-0.94],[14.1,-0.88],[14.0,-1.0],[13.0,-0.98],[11.8,-0.94],[22.3,-0.95],[23.2,-0.99],[14.0,-0.43],[13.6,-0.56],[13.8,-0.75],[12.4,-0.32],[13.3,-0.21],[14.0,-0.03],[12.6,0.5],[11.9,0.67],[11.2,0.78],
[0.05,0.97],[0.15,0.99],[0.25,0.96],[0.35,0.94],[0.45,0.98],[0.55,0.95],[0.65,0.99],[0.75,0.97],[0.85,0.95],[0.95,0.97],[1.05,0.95],[1.15,0.99],[1.25,0.97],[1.35,0.95],[1.45,0.99],[1.55,0.94],[1.65,0.97],[1.75,0.99],[1.85,0.96],[1.95,0.99],[2.05,0.95],[2.15,0.97],[2.25,0.93],[2.35,0.97],[2.45,0.95],[2.55,0.98],[2.65,0.96],[2.75,0.94],[2.85,0.99],[2.95,0.96],[3.05,0.98],[3.15,0.94],[3.25,0.96],[3.45,0.99],[3.55,0.95],[3.75,0.93],[3.85,0.98],[4.05,0.95],[4.25,0.99],[4.35,0.94],[4.55,0.98],[4.75,0.95],[4.95,0.96],[5.15,0.98],[5.35,0.94],[5.55,0.97],[5.75,0.95],[5.95,0.99],[6.15,0.97],[6.45,0.95],[6.65,0.98],[7.05,0.96],[7.35,0.94],[7.65,0.99],[8.05,0.95],[8.45,0.97],[8.85,0.99],[9.3,0.95],
[0.05,-0.95],[0.15,-0.97],[0.25,-0.99],[0.35,-0.96],[0.45,-0.94],[0.55,-0.98],[0.65,-0.96],[0.75,-0.94],[0.85,-0.97],[0.95,-0.99],[1.05,-0.96],[1.15,-0.94],[1.25,-0.98],[1.35,-0.97],[1.45,-0.95],[1.55,-0.99],[1.65,-0.97],[1.75,-0.94],[1.85,-0.96],[1.95,-0.99],[2.05,-0.97],[2.15,-0.95],[2.25,-0.98],[2.35,-0.94],[2.45,-0.96],[2.55,-0.99],[2.65,-0.94],[2.75,-0.97],[2.85,-0.96],[2.95,-0.95],[3.05,-0.99],[3.15,-0.97],[3.25,-0.94],[3.45,-0.96],[3.55,-0.98],[3.75,-0.95],[3.85,-0.97],[4.05,-0.99],[4.25,-0.94],[4.35,-0.97],[4.55,-0.95],[4.75,-0.99],[4.95,-0.97],[5.15,-0.95],[5.35,-0.98],[5.55,-0.94],[5.75,-0.99],[5.95,-0.96],[6.15,-0.98],[6.45,-0.96],[6.65,-0.93],[7.05,-0.97],[7.35,-0.99],[7.65,-0.95],[8.05,-0.97],[8.45,-0.99],[8.85,-0.95],[9.3,-0.98],
[0.05,0.6],[0.15,0.64],[0.25,0.61],[0.35,0.66],[0.45,0.59],[0.55,0.62],[0.65,0.65],[0.75,0.6],[0.85,0.63],[0.95,0.58],[1.05,0.66],[1.15,0.61],[1.25,0.63],[1.35,0.6],[1.55,0.65],[1.65,0.58],[1.85,0.62],[2.05,0.67],[2.25,0.64],[2.55,0.6],[2.75,0.65],[3.15,0.66],[3.45,0.63],[3.75,0.67],
[0.05,-0.62],[0.15,-0.59],[0.25,-0.65],[0.35,-0.6],[0.45,-0.63],[0.55,-0.61],[0.65,-0.64],[0.75,-0.6],[0.85,-0.66],[0.95,-0.62],[1.05,-0.59],[1.15,-0.64],[1.25,-0.62],[1.35,-0.65],[1.55,-0.61],[1.65,-0.66],[1.85,-0.63],[2.05,-0.64],[2.25,-0.61],[2.55,-0.66],[2.75,-0.62],[3.15,-0.68],[3.45,-0.63],[3.75,-0.67],[4.05,-0.64],[4.45,-0.69],
[0.05,-0.01],[0.15,0.02],[0.25,-0.04],[0.35,0.03],[0.45,-0.02],[0.55,0.01],[0.65,-0.03],[0.75,0.05],[0.85,0.0],[0.95,-0.04],[1.15,0.03],[1.35,-0.02],[1.55,0.04],[1.75,-0.03],[1.95,0.02],[2.25,-0.05],[2.55,0.03],[2.85,-0.02],
[0.05,0.8],[0.15,0.71],[0.25,0.52],[0.35,0.4],[0.45,0.22],[0.55,0.09],[0.65,-0.2],[0.75,-0.33],[0.85,-0.46],[0.95,-0.72],[0.05,-0.83],[0.15,-0.4],[0.25,-0.24],[0.35,0.16],[0.45,0.84],[0.55,0.35],[0.65,0.53],[0.75,0.76],[0.85,0.9],[0.95,0.28],[0.15,0.33],[0.35,-0.77],[0.55,-0.85],[0.75,-0.52],[0.95,0.47],[0.25,-0.1],
[1.05,0.81],[1.15,0.5],[1.25,0.31],[1.35,0.12],[1.45,-0.12],[1.55,-0.36],[1.65,-0.53],[1.75,-0.77],[1.85,-0.87],[1.95,0.74],[1.05,-0.27],[1.25,-0.48],[1.45,0.88],[1.65,0.4],[1.85,0.22],[1.15,-0.83],[1.35,0.8],[1.55,0.18],[1.75,0.55],[1.95,-0.43],[1.25,0.72],[1.55,-0.78],
[2.05,0.77],[2.15,0.48],[2.25,0.34],[2.35,0.1],[2.45,-0.17],[2.55,-0.33],[2.65,-0.55],[2.75,-0.75],[2.85,-0.88],[2.95,0.7],[2.05,-0.26],[2.25,-0.45],[2.45,0.85],[2.65,0.44],[2.85,0.25],[2.15,-0.83],[2.35,0.8],[2.55,0.2],[2.75,0.52],[2.95,-0.4],[2.45,-0.73],[2.75,-0.18],
[3.05,0.79],[3.15,0.45],[3.25,0.3],[3.35,0.08],[3.45,-0.14],[3.55,-0.35],[3.65,-0.52],[3.75,-0.74],[3.85,-0.86],[3.95,0.76],[3.05,-0.28],[3.25,-0.5],[3.45,0.87],[3.65,0.42],[3.85,0.26],[3.15,-0.8],[3.35,0.83],[3.55,0.21],[3.75,0.55],[3.95,-0.41],
[4.05,0.77],[4.15,0.47],[4.25,0.32],[4.35,0.07],[4.45,-0.15],[4.55,-0.33],[4.65,-0.57],[4.75,-0.72],[4.85,-0.88],[4.95,0.72],[4.05,-0.25],[4.25,-0.46],[4.45,0.89],[4.65,0.45],[4.85,0.24],[4.15,-0.85],[4.35,0.82],[4.55,0.17],[4.75,0.57],[4.95,-0.38],
[5.05,0.74],[5.15,0.43],[5.25,0.28],[5.35,0.05],[5.45,-0.12],[5.55,-0.4],[5.65,-0.6],[5.75,-0.81],[5.85,0.64],[5.95,-0.24],[5.25,-0.5],[5.45,0.9],[5.65,0.47],[5.85,0.3],[5.15,-0.88],[5.55,0.16],
[6.05,0.7],[6.25,0.45],[6.45,0.26],[6.65,0.02],[6.85,-0.3],[6.15,-0.6],[6.35,-0.82],[6.55,0.83],[6.75,-0.44],[6.95,0.36],[7.05,0.62],[7.25,-0.05],[7.45,-0.63],[7.65,0.45],[7.85,-0.83],[7.15,0.1],[7.55,0.86],[7.95,0.25],[7.35,-0.4],
[8.05,0.4],[8.25,-0.55],[8.45,0.7],[8.65,-0.08],[8.85,0.48],[9.05,-0.62],[9.25,0.15],[9.45,0.68],[9.65,-0.45],[9.85,0.3],[9.95,-0.88],[8.95,0.95],[9.35,-0.96]
];

const yB = [
[0.0,0.03],[0.1,-0.02],[0.2,0.06],[0.0,-0.06],[0.3,0.01],[0.1,0.05],[0.4,-0.04],[0.2,-0.07],[0.3,0.07],[0.5,0.02],[0.0,0.0],[0.4,0.04],[0.1,-0.05],[0.5,-0.03],[0.2,0.02],[0.3,-0.05],[0.0,0.08],[0.4,-0.08],[0.5,0.06],[0.1,0.09],[0.2,-0.01],[0.3,0.04],
[0.6,-0.01],[0.7,0.05],[0.8,-0.06],[0.9,0.08],[1.0,0.02],[0.6,0.07],[0.7,-0.08],[0.8,0.01],[0.9,-0.03],[1.0,-0.09],[0.6,-0.05],[0.7,0.02],[0.8,0.09],[0.9,0.04],[1.0,0.06],[0.6,0.03],[0.7,-0.04],[0.8,-0.1],[0.9,-0.07],[1.0,0.1],[0.8,0.05],[0.6,0.1],
[1.1,0.04],[1.2,-0.07],[1.3,0.09],[1.4,-0.02],[1.5,0.06],[1.1,-0.1],[1.2,0.02],[1.3,-0.05],[1.4,0.11],[1.5,-0.08],[1.1,0.0],[1.2,0.08],[1.3,-0.11],[1.4,0.04],[1.5,0.01],[1.1,0.07],[1.2,-0.03],[1.3,0.03],[1.4,-0.09],[1.5,0.12],[1.3,0.12],[1.5,-0.12],
[1.6,0.05],[1.7,-0.09],[1.8,0.11],[1.9,-0.03],[2.0,0.08],[1.6,-0.12],[1.7,0.03],[1.8,-0.06],[1.9,0.13],[2.0,-0.1],[1.6,0.01],[1.7,0.1],[1.8,-0.13],[1.9,0.05],[2.0,0.0],[1.6,0.09],[1.7,-0.02],[1.8,0.04],[1.9,-0.1],[2.0,0.14],[1.7,0.15],[1.9,-0.15],[1.8,0.0],
[2.1,0.06],[2.2,-0.1],[2.3,0.12],[2.4,-0.04],[2.5,0.09],[2.1,-0.13],[2.2,0.03],[2.3,-0.07],[2.4,0.15],[2.5,-0.12],[2.1,0.01],[2.2,0.11],[2.3,-0.15],[2.4,0.05],[2.5,-0.01],[2.1,0.1],[2.2,-0.03],[2.3,0.03],[2.4,-0.11],[2.5,0.15],[2.2,0.17],[2.4,-0.17],[2.3,0.0],
[2.6,0.07],[2.7,-0.11],[2.8,0.14],[2.9,-0.05],[3.0,0.1],[2.6,-0.14],[2.7,0.04],[2.8,-0.08],[2.9,0.16],[3.0,-0.13],[2.6,0.01],[2.7,0.12],[2.8,-0.16],[2.9,0.06],[3.0,-0.01],[2.6,0.11],[2.7,-0.03],[2.8,0.03],[2.9,-0.12],[3.0,0.17],[2.7,0.19],[2.9,-0.19],[2.8,0.09],
[3.1,0.08],[3.2,-0.12],[3.3,0.15],[3.4,-0.05],[3.5,0.11],[3.1,-0.16],[3.2,0.04],[3.3,-0.09],[3.4,0.18],[3.5,-0.14],[3.1,0.02],[3.2,0.13],[3.3,-0.18],[3.4,0.06],[3.5,-0.01],[3.1,0.12],[3.2,-0.03],[3.3,0.04],[3.4,-0.13],[3.5,0.19],[3.2,0.21],[3.4,-0.2],[3.3,0.0],[3.1,-0.07],
[3.6,0.09],[3.7,-0.13],[3.8,0.16],[3.9,-0.06],[4.0,0.12],[3.6,-0.17],[3.7,0.05],[3.8,-0.1],[3.9,0.19],[4.0,-0.15],[3.6,0.02],[3.7,0.14],[3.8,-0.19],[3.9,0.07],[4.0,-0.01],[3.6,0.13],[3.7,-0.04],[3.8,0.04],[3.9,-0.14],[4.0,0.21],[3.7,0.23],[3.9,-0.22],[3.8,0.01],[3.6,-0.08],
[4.1,0.1],[4.2,-0.14],[4.3,0.18],[4.4,-0.06],[4.5,0.13],[4.1,-0.18],[4.2,0.05],[4.3,-0.11],[4.4,0.21],[4.5,-0.16],[4.1,0.02],[4.2,0.15],[4.3,-0.21],[4.4,0.08],[4.5,-0.02],[4.1,0.14],[4.2,-0.04],[4.3,0.05],[4.4,-0.15],[4.5,0.23],[4.2,0.25],[4.4,-0.24],[4.3,0.0],[4.1,-0.09],
[4.6,0.11],[4.7,-0.15],[4.8,0.19],[4.9,-0.07],[5.0,0.14],[4.6,-0.19],[4.7,0.06],[4.8,-0.12],[4.9,0.22],[5.0,-0.17],[4.6,0.03],[4.7,0.16],[4.8,-0.22],[4.9,0.09],[5.0,-0.02],[4.6,0.15],[4.7,-0.04],[4.8,0.06],[4.9,-0.16],[5.0,0.24],[4.7,0.27],[4.9,-0.26],[4.8,0.01],[4.6,-0.1],
[5.1,0.12],[5.2,-0.16],[5.3,0.2],[5.4,-0.07],[5.5,0.15],[5.1,-0.2],[5.2,0.06],[5.3,-0.13],[5.4,0.24],[5.5,-0.18],[5.1,0.03],[5.2,0.17],[5.3,-0.24],[5.4,0.1],[5.5,-0.03],[5.1,0.16],[5.2,-0.05],[5.3,0.07],[5.4,-0.17],[5.5,0.26],[5.2,0.29],[5.4,-0.28],[5.3,0.01],
[5.6,0.13],[5.7,-0.17],[5.8,0.21],[5.9,-0.08],[6.0,0.16],[5.6,-0.21],[5.7,0.07],[5.8,-0.14],[5.9,0.26],[6.0,-0.19],[5.6,0.03],[5.7,0.18],[5.8,-0.25],[5.9,0.11],[6.0,-0.03],[5.6,0.17],[5.7,-0.05],[5.8,0.08],[5.9,-0.18],[6.0,0.28],[5.7,0.31],[5.9,-0.3],
[6.1,0.14],[6.2,-0.18],[6.3,0.23],[6.4,-0.09],[6.5,0.17],[6.1,-0.22],[6.2,0.07],[6.3,-0.15],[6.4,0.28],[6.5,-0.21],[6.1,0.04],[6.2,0.2],[6.3,-0.27],[6.4,0.12],[6.5,-0.04],[6.1,0.26],[6.3,0.01],[6.5,-0.31],
[6.6,0.15],[6.7,-0.19],[6.8,0.24],[6.9,-0.1],[7.0,0.18],[6.6,-0.24],[6.7,0.08],[6.8,-0.16],[6.9,0.3],[7.0,-0.22],[6.6,0.04],[6.7,0.22],[6.8,-0.29],[6.9,0.13],[7.0,-0.04],[6.7,0.33],[6.9,-0.33],
[7.1,0.16],[7.2,-0.21],[7.3,0.27],[7.4,-0.11],[7.5,0.2],[7.6,-0.26],[7.7,0.09],[7.8,-0.18],[7.9,0.34],[8.0,-0.25],[7.2,0.05],[7.4,0.24],[7.6,-0.34],[7.8,0.14],[8.0,-0.04],[7.3,0.38],[7.5,-0.08],[7.7,0.02],[7.9,-0.3],[7.1,-0.36],[7.6,0.31],[7.9,0.12],
[8.1,0.22],[8.2,-0.31],[8.3,0.41],[8.4,-0.13],[8.5,0.17],[8.6,-0.4],[8.7,0.3],[8.8,-0.21],[8.9,0.44],[9.0,-0.35],[8.2,0.08],[8.5,-0.06],[8.7,0.36],[8.9,-0.45],[9.0,0.12],[8.4,0.27],[8.8,0.02],
[9.1,0.33],[9.2,-0.27],[9.3,0.47],[9.5,-0.15],[9.6,0.22],[9.7,-0.48],[9.8,0.4],[9.9,-0.33],[10.0,0.08],[9.4,-0.52],[9.6,0.5],[9.9,0.15],[9.2,0.05],[10.0,-0.23],
[10.1,0.42],[10.3,0.47],[10.6,0.55],[10.4,-0.28],[10.9,-0.18],[10.7,0.3],[10.5,0.12],[11.0,-0.4],[10.2,-0.5],[10.8,0.0],
[11.1,0.2],[11.3,-0.22],[11.7,0.57],[11.7,-0.54],[11.8,0.35],[12.4,0.52],[12.4,0.35],[12.4,-0.71],[12.4,-0.62],[13.1,0.15],[13.1,-0.26],[13.5,0.68],[13.5,-0.61],[13.6,0.64],[13.6,0.2],[13.8,0.22],[13.8,-0.31],[14.0,0.75],[14.0,0.27],[14.1,-0.59],[14.3,-0.33],[14.5,0.32],[14.5,-0.64],[14.9,0.76],[15.0,-0.76],[15.1,0.1],[15.8,0.65],[15.8,-0.51],[15.9,0.7],[15.9,0.53],[15.9,-0.54],[16.0,0.53],[16.5,0.54],[16.5,-0.73],[16.7,-0.19],[16.7,-0.31],[17.7,-0.56],[18.3,0.35],[18.7,0.54],[19.2,-0.33],[19.5,-0.25],[19.6,0.1],[19.6,0.04],[20.8,0.3],[20.8,-0.18],[20.8,-0.29],[21.9,0.45],[21.9,-0.15],[21.9,-0.82],[22.1,-0.12],[22.2,0.08],[22.6,-0.51],[23.3,0.0],[23.3,-0.05],
[0.05,0.01],[0.15,-0.04],[0.25,0.03],[0.35,-0.02],[0.45,0.07],[0.05,-0.03],[0.25,-0.06],[0.45,0.0],[0.15,0.07],[0.35,0.05],[0.55,-0.06],[0.65,0.04],[0.75,-0.02],[0.85,0.07],[0.95,-0.05],[0.55,0.09],[0.75,0.08],[0.95,0.01],[0.65,-0.09],[0.85,-0.03],
[1.05,-0.04],[1.15,0.06],[1.25,-0.08],[1.35,0.02],[1.45,-0.01],[1.55,0.1],[1.65,-0.06],[1.75,0.06],[1.85,-0.09],[1.95,0.02],[1.05,0.11],[1.25,0.05],[1.45,-0.11],[1.65,0.12],[1.85,0.08],[1.15,-0.1],[1.35,-0.06],[1.55,-0.03],[1.75,-0.12],[1.95,0.11],
[2.05,-0.05],[2.15,0.08],[2.25,-0.09],[2.35,0.03],[2.45,-0.02],[2.55,0.12],[2.65,-0.07],[2.75,0.07],[2.85,-0.11],[2.95,0.02],[2.05,0.13],[2.25,0.06],[2.45,-0.14],[2.65,0.15],[2.85,0.1],[2.15,-0.12],[2.35,-0.07],[2.55,-0.04],[2.75,-0.16],[2.95,0.14],[2.45,0.09],[2.85,-0.02],
[3.05,-0.06],[3.15,0.1],[3.25,-0.1],[3.35,0.03],[3.45,-0.02],[3.55,0.14],[3.65,-0.08],[3.75,0.08],[3.85,-0.13],[3.95,0.02],[3.05,0.15],[3.25,0.07],[3.45,-0.16],[3.65,0.17],[3.85,0.11],[3.15,-0.14],[3.35,-0.08],[3.55,-0.04],[3.75,-0.18],[3.95,0.16],[3.45,0.1],[3.85,-0.03],
[4.05,-0.07],[4.15,0.11],[4.25,-0.12],[4.35,0.03],[4.45,-0.03],[4.55,0.16],[4.65,-0.09],[4.75,0.09],[4.85,-0.15],[4.95,0.03],[4.05,0.17],[4.25,0.08],[4.45,-0.18],[4.65,0.2],[4.85,0.13],[4.15,-0.16],[4.35,-0.09],[4.55,-0.05],[4.75,-0.21],[4.95,0.19],[4.45,0.11],[4.85,-0.04],
[5.05,-0.08],[5.15,0.12],[5.25,-0.13],[5.35,0.04],[5.45,-0.03],[5.55,0.18],[5.65,-0.1],[5.75,0.1],[5.85,-0.17],[5.95,0.03],[5.05,0.19],[5.25,0.09],[5.45,-0.2],[5.65,0.23],[5.85,0.14],[5.15,-0.18],[5.35,-0.1],[5.55,-0.06],[5.75,-0.23],[5.95,0.21],
[6.05,-0.09],[6.15,0.13],[6.25,-0.14],[6.35,0.05],[6.45,-0.03],[6.55,0.2],[6.65,-0.11],[6.75,0.11],[6.85,-0.19],[6.95,0.04],[6.05,0.22],[6.25,0.1],[6.45,-0.23],[6.65,0.26],[6.85,0.16],[6.15,-0.2],[6.35,-0.12],[6.55,-0.06],[6.75,-0.26],[6.95,0.24],
[7.05,-0.1],[7.25,0.14],[7.45,-0.16],[7.65,0.05],[7.85,-0.03],[8.05,0.21],[7.15,0.25],[7.35,-0.28],[7.55,0.11],[7.75,-0.21],[7.95,0.28],[8.15,-0.17],[8.35,0.1],[8.55,-0.27],[8.75,0.19],[8.95,-0.12],[8.25,0.33],[8.45,-0.36],[8.65,0.04],[8.85,0.26],[9.05,-0.2],[9.25,0.28],[9.45,-0.31],[9.65,0.1],[9.85,-0.4],[9.15,0.38],[9.55,0.43],[9.95,0.3],[10.2,-0.12],[10.4,0.2],[10.6,-0.35],[10.8,0.37],[11.0,0.05],[10.3,-0.44],[10.9,0.49],[11.2,-0.3],[11.5,0.41],[11.6,-0.08],[12.0,0.27],[12.2,-0.45],[12.7,0.1],[12.9,-0.38],[13.2,0.45],[13.0,0.58],
[0.3,-0.01],[0.8,0.01],[1.3,-0.01],[1.8,0.02],[2.3,-0.02],[2.8,0.01],[3.3,-0.03],[3.8,0.02],[4.3,-0.03],[4.8,0.03],[5.3,-0.04],[5.8,0.02],[6.3,-0.05],[6.8,0.04],
[0.42,-0.05],[0.92,0.05],[1.42,-0.06],[1.92,0.07],[2.42,-0.08],[2.92,0.09],[3.42,-0.1],[3.92,0.11],[4.42,-0.12],[4.92,0.13],[5.42,-0.14],[5.92,0.15],[6.42,-0.16],[6.92,0.17],
[0.62,0.06],[1.12,-0.07],[1.62,0.08],[2.12,-0.09],[2.62,0.1],[3.12,-0.12],[3.62,0.13],[4.12,-0.14],[4.62,0.16],[5.12,-0.17],[5.62,0.19],[6.12,-0.2],[6.62,0.21],[7.12,-0.22],
[0.22,0.05],[0.72,-0.03],[1.22,0.03],[1.72,-0.04],[2.22,0.04],[2.72,-0.05],[3.22,0.05],[3.72,-0.06],[4.22,0.06],[4.72,-0.07],[5.22,0.07],[5.72,-0.09],[6.22,0.09],[6.72,-0.1]
];

// Layout
const W = 747, H = 523;
const DOT = 2.1;
const SERIF = "'Liberation Serif','Times New Roman',serif";
const SANS  = "'Liberation Sans',Arial,sans-serif";

const panels = [
  { id: "p1", data: sinDelta, x0: 71,    x1: 347.5, y0: 70.5,  y1: 206.7, yDom: [-1.1, 1.1], ylab: "Sin δ", labX: 14 },
  { id: "p2", data: sinAlpha, x0: 444.7, x1: 720.5, y0: 70.5,  y1: 206.7, yDom: [-1.1, 1.1], ylab: "Sin α", labX: 387 },
  { id: "p3", data: sinBeta,  x0: 71,    x1: 347.5, y0: 325.7, y1: 461.7, yDom: [-1.1, 1.1], ylab: "Sin β", labX: 14 },
  { id: "p4", data: yB,       x0: 444.7, x1: 720.5, y0: 325.7, y1: 461.5, yDom: [-1, 1],     ylab: null,    labX: 387 }
];

const svg = d3.select("#chart").append("svg").attr("width", W).attr("height", H);

svg.append("text")
  .attr("x", 375.5).attr("y", 19)
  .attr("text-anchor", "middle")
  .attr("font-family", SERIF).attr("font-size", 12)
  .text(title);

const defs = svg.append("defs");

panels.forEach(p => {
  const x = d3.scaleLinear().domain([0, 0.03]).range([p.x0, p.x1]);
  const y = d3.scaleLinear().domain(p.yDom).range([p.y1, p.y0]);

  defs.append("clipPath").attr("id", "clip-" + p.id)
    .append("rect").attr("x", p.x0).attr("y", p.y0)
    .attr("width", p.x1 - p.x0).attr("height", p.y1 - p.y0);

  const g = svg.append("g");

  // Punkte
  g.append("g").attr("clip-path", `url(#clip-${p.id})`)
    .selectAll("rect").data(p.data).join("rect")
    .attr("x", d => x(d[0] / 1000) - DOT / 2)
    .attr("y", d => y(d[1]) - DOT / 2)
    .attr("width", DOT).attr("height", DOT)
    .attr("fill", "#ff0000").attr("fill-opacity", 0.85);

  // Nulllinie
  g.append("line")
    .attr("x1", p.x0).attr("x2", p.x1)
    .attr("y1", y(0)).attr("y2", y(0))
    .attr("stroke", "#000").attr("stroke-width", 1.3);

  // Ticks (nach innen, gespiegelt)
  const tk = 6;
  m3Ticks.forEach((t, i) => {
    const xx = x(t);
    g.append("line").attr("x1", xx).attr("x2", xx).attr("y1", p.y1).attr("y2", p.y1 - tk)
      .attr("stroke", "#000").attr("stroke-width", 1);
    g.append("line").attr("x1", xx).attr("x2", xx).attr("y1", p.y0).attr("y2", p.y0 + tk)
      .attr("stroke", "#000").attr("stroke-width", 1);
    g.append("text").attr("x", xx).attr("y", p.y1 + 18)
      .attr("text-anchor", "middle")
      .attr("font-family", SERIF).attr("font-size", 10.5)
      .text(m3TickLabels[i]);
  });
  yTicks.forEach((t, i) => {
    const yy = y(t);
    g.append("line").attr("x1", p.x0).attr("x2", p.x0 + tk).attr("y1", yy).attr("y2", yy)
      .attr("stroke", "#000").attr("stroke-width", 1);
    g.append("line").attr("x1", p.x1).attr("x2", p.x1 - tk).attr("y1", yy).attr("y2", yy)
      .attr("stroke", "#000").attr("stroke-width", 1);
    g.append("text").attr("x", p.x0 - 7).attr("y", yy + 3.7)
      .attr("text-anchor", "end")
      .attr("font-family", SERIF).attr("font-size", 10.5)
      .text(yTickLabels[i]);
  });

  // Rahmen
  g.append("rect")
    .attr("x", p.x0).attr("y", p.y0)
    .attr("width", p.x1 - p.x0).attr("height", p.y1 - p.y0)
    .attr("fill", "none").attr("stroke", "#000").attr("stroke-width", 1.2);

  // x-Beschriftung: m3 (eV)
  const xl = g.append("text")
    .attr("x", (p.x0 + p.x1) / 2).attr("y", p.y1 + 40)
    .attr("text-anchor", "middle")
    .attr("font-family", SANS).attr("font-size", 12);
  xl.append("tspan").text("m");
  xl.append("tspan").attr("font-size", 8.5).attr("dy", 3).text("3");
  xl.append("tspan").attr("dy", -3).text(" (eV)");

  // y-Beschriftung
  const cy = (p.y0 + p.y1) / 2;
  const yl = g.append("text")
    .attr("transform", `translate(${p.labX},${cy}) rotate(-90)`)
    .attr("text-anchor", "middle")
    .attr("font-family", SANS).attr("font-size", 12);
  if (p.ylab) {
    yl.text(p.ylab);
  } else {
    yl.append("tspan").text("10");
    yl.append("tspan").attr("font-size", 8.5).attr("dy", -5).text("11");
    yl.append("tspan").attr("dy", 5).text("Y");
    yl.append("tspan").attr("font-size", 8.5).attr("dy", 3).text("B");
  }
});
</script>
</body>
</html>
